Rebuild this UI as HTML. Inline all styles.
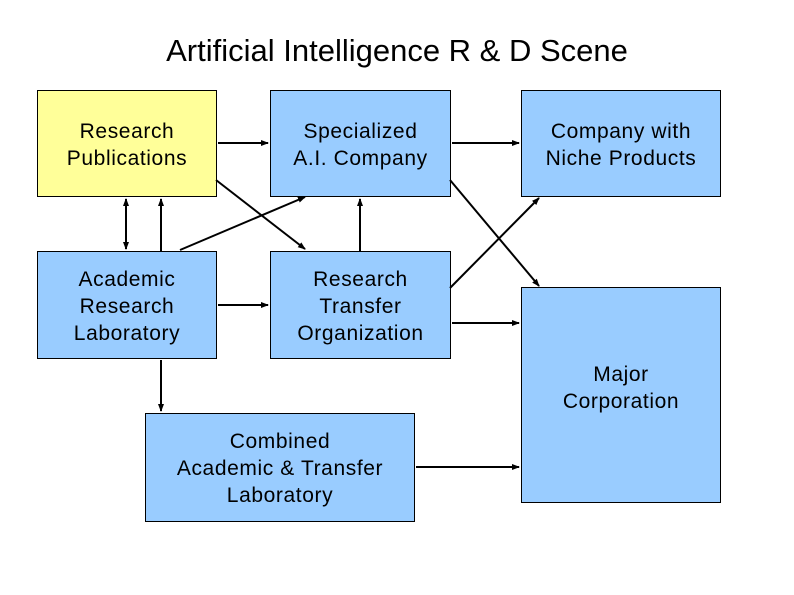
<!DOCTYPE html>
<html><head><style>
body{margin:0;width:794px;height:595px;background:#fff;position:relative;font-family:"Liberation Sans",Arial,sans-serif;overflow:hidden}
.b{position:absolute;border:1px solid #000;background:#99ccff;display:flex;align-items:center;justify-content:center;text-align:center;font-size:21px;line-height:27px;box-sizing:border-box;letter-spacing:0.6px;padding-top:2px}
.t{position:absolute;left:0;width:794px;top:33px;text-align:center;font-size:31px}
</style></head><body>
<div class="t">Artificial Intelligence R &amp; D Scene</div>
<div class="b" style="left:37px;top:90px;width:180px;height:107px;background:#ffff99">Research<br>Publications</div>
<div class="b" style="left:270px;top:90px;width:181px;height:107px">Specialized<br>A.I. Company</div>
<div class="b" style="left:521px;top:90px;width:200px;height:107px">Company with<br>Niche Products</div>
<div class="b" style="left:37px;top:251px;width:180px;height:108px">Academic<br>Research<br>Laboratory</div>
<div class="b" style="left:270px;top:251px;width:181px;height:108px">Research<br>Transfer<br>Organization</div>
<div class="b" style="left:521px;top:287px;width:200px;height:216px;padding-top:0;padding-bottom:14px">Major<br>Corporation</div>
<div class="b" style="left:145px;top:413px;width:270px;height:109px">Combined<br>Academic &amp; Transfer<br>Laboratory</div>
<svg width="794" height="595" style="position:absolute;left:0;top:0">
<defs><marker id="a" markerWidth="8" markerHeight="8" refX="7" refY="4" orient="auto" markerUnits="userSpaceOnUse"><path d="M0,1 L8,4 L0,7z"/></marker></defs>
<g stroke="#000" stroke-width="2" fill="none" marker-end="url(#a)">
<line x1="218" y1="143" x2="268" y2="143"/>
<line x1="452" y1="143" x2="519" y2="143"/>
<line x1="126" y1="224" x2="126" y2="199"/>
<line x1="126" y1="224" x2="126" y2="249"/>
<line x1="161" y1="251" x2="161" y2="199"/>
<line x1="180" y1="250" x2="305" y2="197"/>
<line x1="216" y1="180" x2="305" y2="249"/>
<line x1="360" y1="251" x2="360" y2="199"/>
<line x1="450" y1="180" x2="539" y2="286"/>
<line x1="450" y1="288" x2="539" y2="198"/>
<line x1="218" y1="305" x2="268" y2="305"/>
<line x1="452" y1="323" x2="519" y2="323"/>
<line x1="161" y1="360" x2="161" y2="411"/>
<line x1="416" y1="467" x2="519" y2="467"/>
</g></svg>
</body></html>
